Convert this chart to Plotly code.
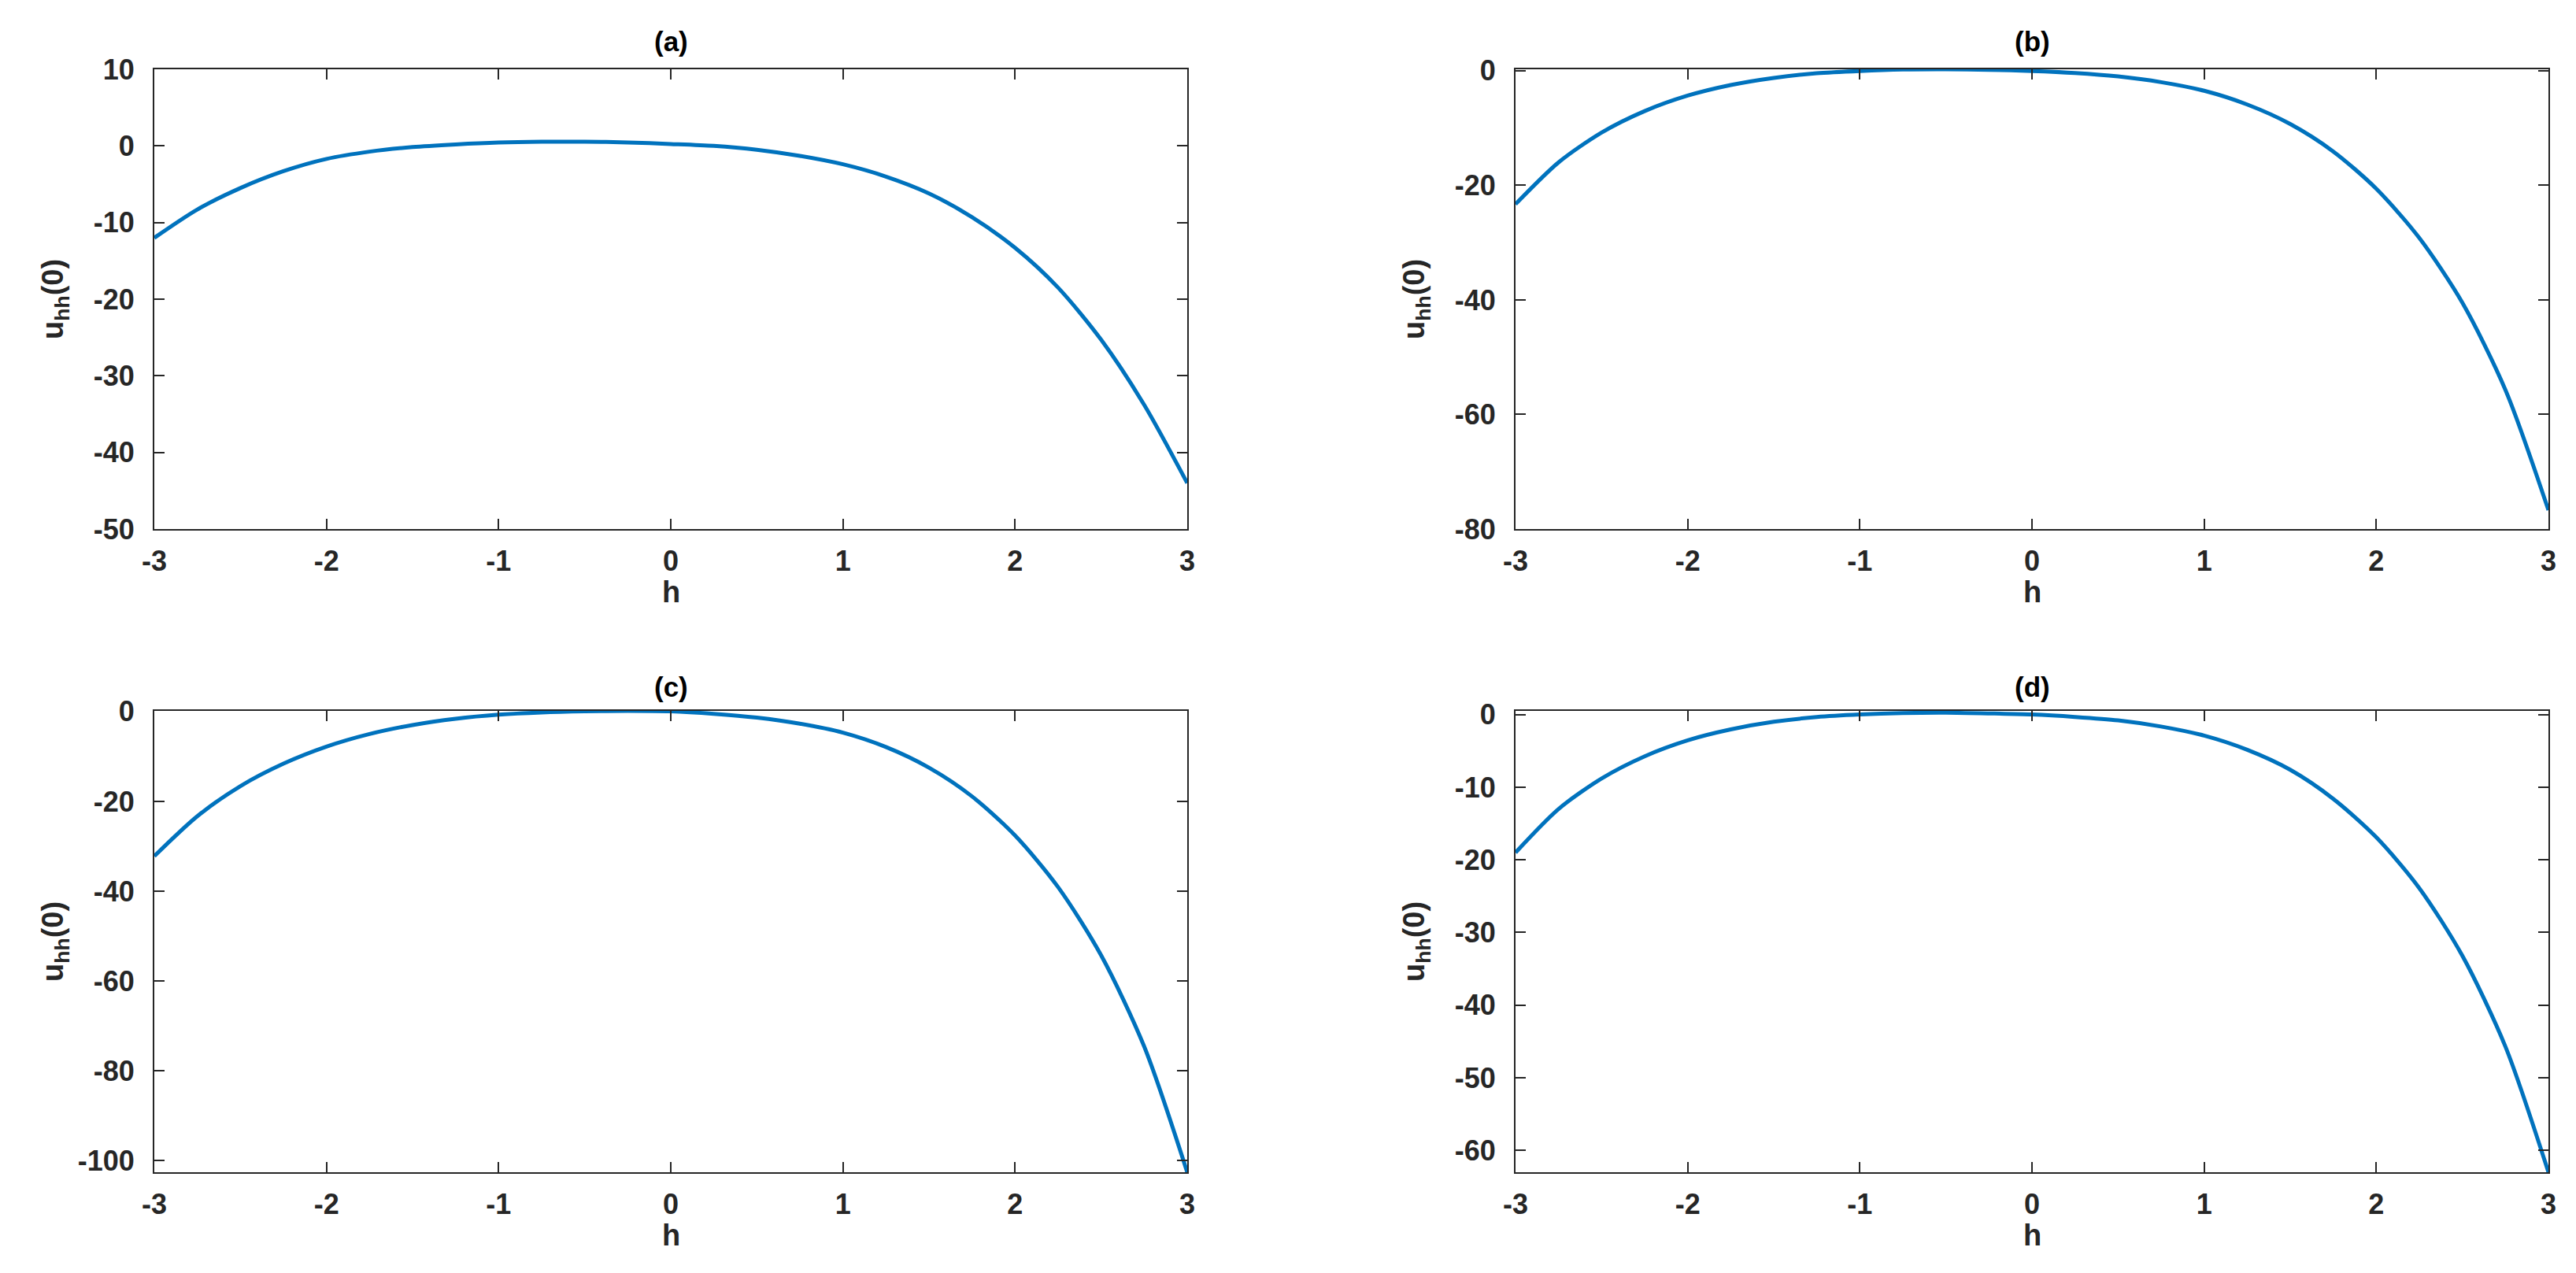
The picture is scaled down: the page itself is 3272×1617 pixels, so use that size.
import plotly.graph_objects as go

# ---------------- data ----------------
h = [-3, -2.75, -2.5, -2.25, -2, -1.75, -1.5, -1.25, -1, -0.75, -0.5, -0.25, 0,
     0.25, 0.5, 0.75, 1, 1.25, 1.5, 1.75, 2, 2.25, 2.5, 2.75, 3]

u_a = [-12.0, -8.3, -5.5, -3.3, -1.7, -0.75, -0.15, 0.2, 0.45, 0.55, 0.55, 0.45, 0.25,
       0.0, -0.5, -1.3, -2.4, -4.0, -6.2, -9.3, -13.3, -18.5, -25.3, -33.8, -44.0]
u_b = [-23.3, -16.0, -10.8, -7.05, -4.35, -2.5, -1.25, -0.45, -0.05, 0.2, 0.25, 0.15, -0.05,
       -0.4, -1.0, -2.0, -3.5, -5.9, -9.3, -14.1, -20.6, -29.2, -40.5, -55.7, -76.7]
u_c = [-32.2, -23.3, -16.6, -11.6, -7.8, -5.0, -3.0, -1.6, -0.7, -0.2, 0.05, 0.15, 0.05,
       -0.5, -1.35, -2.7, -4.7, -7.9, -12.5, -18.9, -27.6, -39.1, -54.3, -74.6, -102.6]
u_d = [-19.0, -13.0, -8.8, -5.75, -3.55, -2.05, -1.0, -0.35, 0.0, 0.2, 0.25, 0.15, 0.0,
       -0.33, -0.8, -1.65, -2.9, -4.85, -7.6, -11.6, -16.9, -23.9, -33.2, -45.7, -63.0]

panel_titles = ["(a)", "(b)", "(c)", "(d)"]
x_ticks = [-3, -2, -1, 0, 1, 2, 3]
y_ticks_a = [-50, -40, -30, -20, -10, 0, 10]
y_ticks_b = [-80, -60, -40, -20, 0]
y_ticks_c = [-100, -80, -60, -40, -20, 0]
y_ticks_d = [-60, -50, -40, -30, -20, -10, 0]
y_ranges = [[-50, 10], [-80, 0.25], [-102.6, 0.15], [-63.0, 0.5]]
x_label = "h"
y_label = "u<sub>hh</sub>(0)"

series = [u_a, u_b, u_c, u_d]
yticks = [y_ticks_a, y_ticks_b, y_ticks_c, y_ticks_d]

# ---------------- layout geometry ----------------
W, H = 3272, 1617
boxes = [(188, 1500, 80, 664), (1917, 3229, 80, 664),
         (188, 1500, 895, 1481), (1917, 3229, 895, 1481)]
title_gap = [14, 14, 9, 9]


def fx(px):
    return px / W


def fy(py):
    return 1 - py / H


def labels(vals):
    return [str(v) for v in vals]  # ASCII hyphen-minus, as in the reference


FONT = "Liberation Sans, Arial, Helvetica, sans-serif"
AX_COLOR = "#262626"
LINE_COLOR = "#0072BD"

fig = go.Figure()
layout = dict(
    width=W, height=H,
    margin=dict(l=0, r=0, t=0, b=0, autoexpand=False),
    paper_bgcolor="white", plot_bgcolor="white",
    showlegend=False,
    font=dict(family=FONT, color=AX_COLOR),
)
annotations = []

for i, (ys, (l, r, t, b)) in enumerate(zip(series, boxes)):
    n = "" if i == 0 else str(i + 1)
    fig.add_trace(go.Scatter(
        x=h, y=ys, mode="lines",
        line=dict(color=LINE_COLOR, width=5, shape="spline", smoothing=0.8),
        xaxis="x" + n, yaxis="y" + n, hoverinfo="skip"))
    common = dict(
        showline=True, linecolor=AX_COLOR, linewidth=2, mirror="allticks",
        ticks="inside", ticklen=13, tickwidth=2, tickcolor=AX_COLOR,
        showgrid=False, zeroline=False, automargin=False,
        tickfont=dict(family=FONT, size=36, color=AX_COLOR, weight="bold"),
    )
    layout["xaxis" + n] = dict(
        common, domain=[fx(l), fx(r)], range=[-3, 3],
        tickmode="array", tickvals=x_ticks, ticktext=labels(x_ticks),
        anchor="y" + n, ticklabelstandoff=8)
    layout["yaxis" + n] = dict(
        common, domain=[fy(b), fy(t)], range=y_ranges[i],
        tickmode="array", tickvals=yticks[i], ticktext=labels(yticks[i]),
        anchor="x" + n, ticklabelstandoff=16)
    # panel title
    annotations.append(dict(
        text="<b>%s</b>" % panel_titles[i], x=fx((l + r) / 2), y=fy(t - title_gap[i]),
        xref="paper", yref="paper", xanchor="center", yanchor="bottom",
        showarrow=False, font=dict(family=FONT, size=35, color="#000000")))
    # x label
    annotations.append(dict(
        text="<b>%s</b>" % x_label, x=fx((l + r) / 2), y=fy(b + 80),
        xref="paper", yref="paper", xanchor="center", yanchor="middle",
        showarrow=False, font=dict(family=FONT, size=38, color=AX_COLOR)))
    # y label
    annotations.append(dict(
        text="<b>%s</b>" % y_label, x=fx(l - 126), y=fy((t + b) / 2),
        xref="paper", yref="paper", xanchor="center", yanchor="middle",
        textangle=-90, showarrow=False,
        font=dict(family=FONT, size=38, color=AX_COLOR)))

layout["annotations"] = annotations
fig.update_layout(**layout)
fig.write_html("out.html")
